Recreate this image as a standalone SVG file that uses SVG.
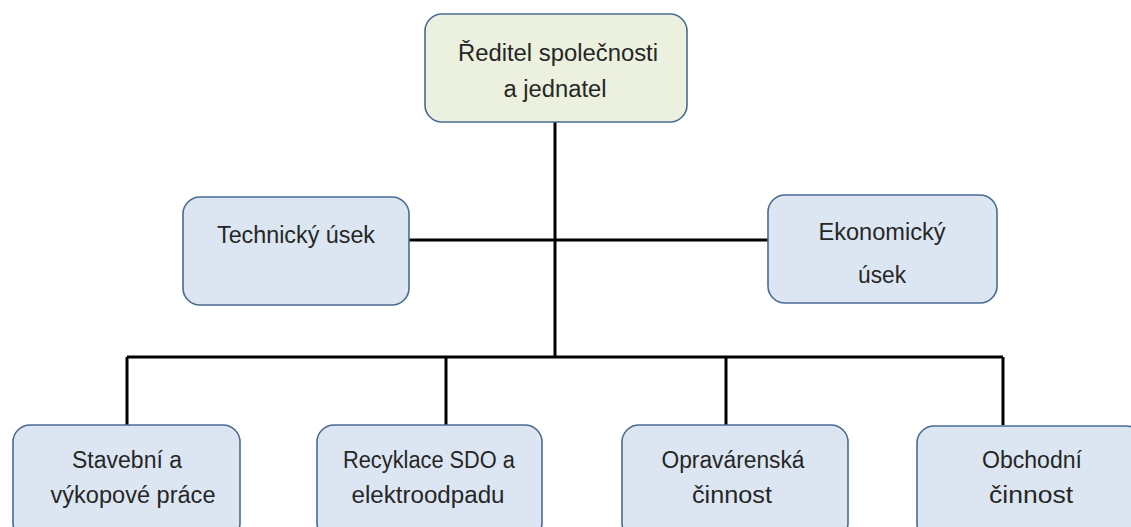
<svg xmlns="http://www.w3.org/2000/svg" width="1131" height="527" viewBox="0 0 1131 527">
<style>
.box{fill:#DCE6F2;stroke:#4A6B91;stroke-width:1.6}
.top{fill:#EBF1DE;stroke:#4A6B91;stroke-width:1.6}
.t{font-family:"Liberation Sans",Arial,sans-serif;font-size:23px;fill:#262626;text-anchor:middle}
.c{stroke:#000;stroke-width:3;fill:none}
</style>
<rect width="1131" height="527" fill="#fff"/>
<g id="connectors">
<path class="c" d="M555 122V357"/>
<path class="c" d="M409 240H768"/>
<path class="c" d="M127 357H1003"/>
<path class="c" d="M127 357V425M446 357V425M726 357V425M1003 357V425"/>
</g>
<g id="n-director">
<rect class="top" x="425" y="14" width="262" height="108" rx="17"/>
<text class="t" x="558" y="61" textLength="200" lengthAdjust="spacingAndGlyphs">Ředitel společnosti</text>
<text class="t" x="555" y="97" textLength="103" lengthAdjust="spacingAndGlyphs">a jednatel</text>
</g>
<g id="n-tech">
<rect class="box" x="183" y="197" width="226" height="108" rx="17"/>
<text class="t" x="296" y="243" textLength="158" lengthAdjust="spacingAndGlyphs">Technický úsek</text>
</g>
<g id="n-econ">
<rect class="box" x="768" y="195" width="229" height="108" rx="17"/>
<text class="t" x="882" y="240" textLength="127" lengthAdjust="spacingAndGlyphs">Ekonomický</text>
<text class="t" x="882" y="283" textLength="48" lengthAdjust="spacingAndGlyphs">úsek</text>
</g>
<g id="n-stav">
<rect class="box" x="13" y="425" width="227" height="115" rx="17"/>
<text class="t" x="127" y="468" textLength="110" lengthAdjust="spacingAndGlyphs">Stavební a</text>
<text class="t" x="133" y="503" textLength="165" lengthAdjust="spacingAndGlyphs">výkopové práce</text>
</g>
<g id="n-recy">
<rect class="box" x="317" y="425" width="225" height="115" rx="17"/>
<text class="t" x="429" y="468" textLength="172" lengthAdjust="spacingAndGlyphs">Recyklace SDO a</text>
<text class="t" x="428" y="503" textLength="153" lengthAdjust="spacingAndGlyphs">elektroodpadu</text>
</g>
<g id="n-oprav">
<rect class="box" x="622" y="425" width="226" height="115" rx="17"/>
<text class="t" x="733" y="468" textLength="143" lengthAdjust="spacingAndGlyphs">Opravárenská</text>
<text class="t" x="732" y="503" textLength="80" lengthAdjust="spacingAndGlyphs">činnost</text>
</g>
<g id="n-obch">
<rect class="box" x="917" y="426" width="226" height="115" rx="17"/>
<text class="t" x="1032" y="468" textLength="100" lengthAdjust="spacingAndGlyphs">Obchodní</text>
<text class="t" x="1031" y="503" textLength="84" lengthAdjust="spacingAndGlyphs">činnost</text>
</g>
</svg>
